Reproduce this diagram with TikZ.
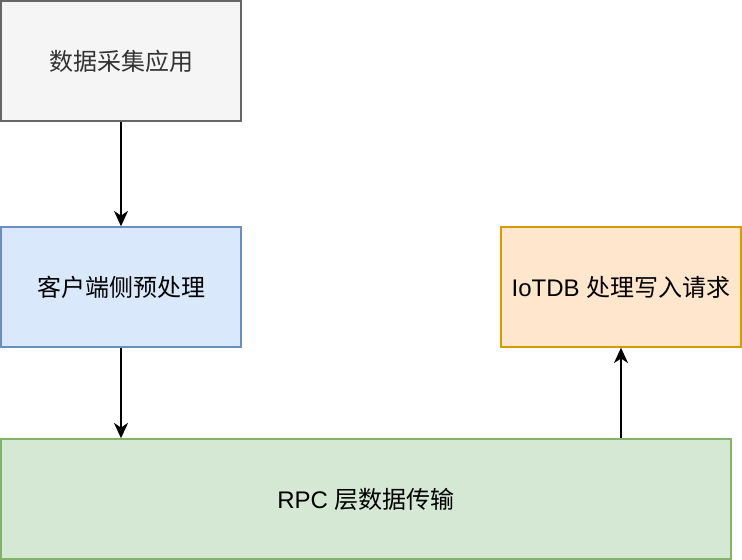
\documentclass[tikz,border=0pt]{standalone}
\usepackage{fontspec}
\setmainfont{Liberation Sans}
\newfontfamily\cjk{Noto Sans CJK SC}
\usepackage{xcolor}
\usetikzlibrary{arrows.meta}

\definecolor{grayfill}{HTML}{F5F5F5}
\definecolor{grayline}{HTML}{666666}
\definecolor{graytext}{HTML}{333333}
\definecolor{bluefill}{HTML}{DAE8FC}
\definecolor{blueline}{HTML}{6C8EBF}
\definecolor{orangefill}{HTML}{FFE6CC}
\definecolor{orangeline}{HTML}{D79B00}
\definecolor{greenfill}{HTML}{D5E8D4}
\definecolor{greenline}{HTML}{82B366}

\begin{document}
\begin{tikzpicture}[x=0.75pt,y=-0.75pt,
    stage/.style={draw,line width=1.1pt,minimum width=180pt,minimum height=90pt,
        inner sep=0pt,font=\fontsize{18pt}{21pt}\selectfont},
    flow/.style={line width=1.3pt,-{Stealth[length=11.5pt,width=10.5pt,inset=3.5pt]}}]
        \useasboundingbox (0,0) rectangle (742,560);
        \node[stage,fill=grayfill,draw=grayline,text=graytext] (app) at (121,61) {\cjk 数据采集应用};
        \node[stage,fill=bluefill,draw=blueline] (client) at (121,287) {\cjk 客户端侧预处理};
        \node[stage,fill=orangefill,draw=orangeline] (iotdb) at (621,287) {IoTDB {\cjk 处理写入请求}};
        \node[stage,fill=greenfill,draw=greenline,minimum width=547.5pt] (rpc) at (366,499) {RPC {\cjk 层数据传输}};
        \draw[flow] (app) -- (client);
        \draw[flow] (client) -- (client |- rpc.north);
        \draw[flow] (iotdb |- rpc.north) -- (iotdb);
    \end{tikzpicture}
\end{document}
